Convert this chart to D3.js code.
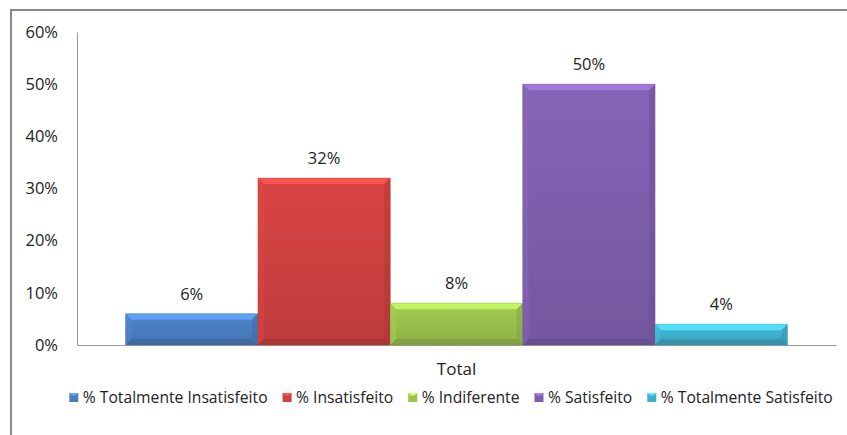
<!DOCTYPE html>
<html><head><meta charset="utf-8">
<script src="https://cdn.jsdelivr.net/npm/d3@7"></script>
<style>
body{margin:0;background:#fff;}
text{font-family:"Open Sans","Noto Sans",sans-serif;fill:#222;}
</style></head>
<body><svg id="c" width="847" height="435"></svg>
<script>
const categories = ["Total"];
const seriesNames = ["% Totalmente Insatisfeito","% Insatisfeito","% Indiferente","% Satisfeito","% Totalmente Satisfeito"];
const seriesValues = [0.06, 0.32, 0.08, 0.50, 0.04];
const seriesLabels = ["6%","32%","8%","50%","4%"];
const seriesColors = ["#4a7ec0","#cf4140","#9bc24e","#7f5fad","#3fb0cc"];
const yTicks = [0,0.1,0.2,0.3,0.4,0.5,0.6];

(function(){
const svg = d3.select("#c");
const defs = svg.append("defs");
svg.append("rect").attr("x",11).attr("y",10).attr("width",900).attr("height",500)
  .attr("fill","#fff").attr("stroke","#888").attr("stroke-width",2);

const pL=77, pR=836, pT=32, pB=345;
const y = d3.scaleLinear().domain([0,0.6]).range([pB,pT]);
const x0 = d3.scaleBand().domain(categories).range([pL,pR]).paddingInner(0).paddingOuter(0.0733);
const x1 = d3.scaleBand().domain(seriesNames).range([0,x0.bandwidth()]);

const yAxis = d3.axisLeft(y).tickValues(yTicks).tickFormat(d3.format(".0%")).tickSize(0).tickPadding(19);
const ga = svg.append("g").attr("transform",`translate(${pL},0)`).call(yAxis);
ga.select(".domain").attr("stroke","#999").attr("stroke-width",1);
ga.selectAll("text").style("font-size","16.5px").attr("fill","#222");

const xAxis = d3.axisBottom(x0).tickSize(0).tickPadding(18);
const gx = svg.append("g").attr("transform",`translate(0,${pB})`).call(xAxis);
gx.select(".domain").attr("stroke","#999").attr("stroke-width",1);
gx.selectAll("text").style("font-size","17px").attr("fill","#222");

seriesColors.forEach((c,i)=>{
  const g = defs.append("linearGradient").attr("id","g"+i).attr("x1",0).attr("y1",0).attr("x2",0).attr("y2",1);
  g.append("stop").attr("offset","0%").attr("stop-color",d3.color(c).brighter(0.15));
  g.append("stop").attr("offset","100%").attr("stop-color",d3.color(c).darker(0.25));
});

const bars = svg.append("g");
seriesNames.forEach((s,i)=>{
  const bx = x0("Total")+x1(s), bw = x1.bandwidth();
  const by = y(seriesValues[i]), bh = pB-by;
  const c = d3.color(seriesColors[i]);
  const gg = bars.append("g");
  gg.append("rect").attr("x",bx).attr("y",by).attr("width",bw).attr("height",bh).attr("fill",`url(#g${i})`);
  const b = Math.min(6, bh/3);
  gg.append("path").attr("d",`M${bx},${by}L${bx+bw},${by}L${bx+bw-b},${by+b}L${bx+b},${by+b}Z`).attr("fill",c.brighter(0.7)).attr("opacity",0.9);
  gg.append("path").attr("d",`M${bx},${by}L${bx+b},${by+b}L${bx+b},${pB-b}L${bx},${pB}Z`).attr("fill",c.brighter(0.2)).attr("opacity",0.5);
  gg.append("path").attr("d",`M${bx+bw},${by}L${bx+bw-b},${by+b}L${bx+bw-b},${pB-b}L${bx+bw},${pB}Z`).attr("fill",c.darker(0.5)).attr("opacity",0.5);
  gg.append("path").attr("d",`M${bx},${pB}L${bx+b},${pB-b}L${bx+bw-b},${pB-b}L${bx+bw},${pB}Z`).attr("fill",c.darker(0.8)).attr("opacity",0.5);
  gg.append("rect").attr("x",bx).attr("y",by).attr("width",bw).attr("height",bh).attr("fill","none").attr("stroke",c.darker(0.6)).attr("stroke-opacity",0.35).attr("stroke-width",0.8);
  bars.append("text").attr("x",bx+bw/2).attr("y",by-14).attr("text-anchor","middle").style("font-size","16.5px").text(seriesLabels[i]);
});

// legend: fit font so the first label spans ~185px like the reference
const lg = svg.append("g");
const probe = lg.append("text").style("font-size","15px").text(seriesNames[0]);
const fs = 15 * 185 / probe.node().getComputedTextLength();
probe.remove();
const items = seriesNames.map((s,i)=>{
  const it = lg.append("g");
  const c = d3.color(seriesColors[i]);
  it.append("rect").attr("x",0).attr("y",-4.5).attr("width",9).attr("height",9).attr("fill",c);
  it.append("path").attr("d","M0,-4.5L9,-4.5L6.5,-2L2.5,-2Z").attr("fill",c.brighter(0.8));
  const t = it.append("text").attr("x",13.5).attr("y",5.5).style("font-size",fs+"px").text(s);
  return {it, w: 13.5 + t.node().getComputedTextLength()};
});
const gap = 15;
const total = d3.sum(items,d=>d.w) + gap*(items.length-1);
let cx = 451 - total/2;
items.forEach(d=>{ d.it.attr("transform",`translate(${cx},397.5)`); cx += d.w + gap; });
})();
</script></body></html>
